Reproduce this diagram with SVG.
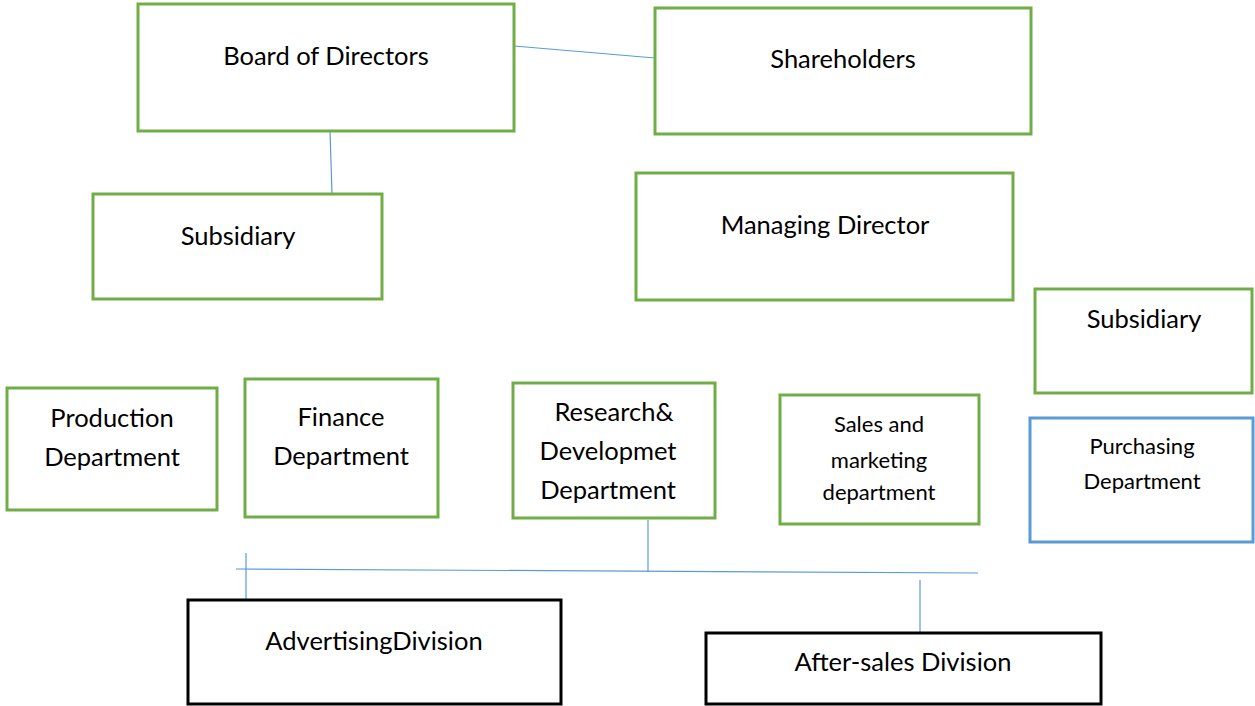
<svg xmlns="http://www.w3.org/2000/svg" width="1255" height="706" viewBox="0 0 1255 706">
<style>
.g{fill:#fff;stroke:#70AD47;stroke-width:3}
.b{fill:#fff;stroke:#5B9BD5;stroke-width:3}
.k{fill:#fff;stroke:#000;stroke-width:3}
text{font-family:Lato,"Open Sans",sans-serif;fill:#000;text-anchor:middle}
.t24{font-size:25.5px}
.t21{font-size:22px}
.c line{stroke:#5B9BD5;stroke-width:1.2}
</style>
<rect width="1255" height="706" fill="#fff"/>
<g class="c" id="connectors">
<line x1="514" y1="46" x2="655" y2="58"/>
<line x1="330" y1="131" x2="332" y2="194"/>
<line x1="648" y1="520" x2="648" y2="572"/>
<line x1="236" y1="569" x2="978" y2="573"/>
<line x1="246" y1="553" x2="246" y2="604"/>
<line x1="920" y1="580" x2="920" y2="633"/>
</g>
<g id="board"><rect class="g" x="138" y="4" width="376" height="127"/><text class="t24" x="326" y="65">Board of Directors</text></g>
<g id="shareholders"><rect class="g" x="655" y="8" width="376" height="126"/><text class="t24" x="843" y="68">Shareholders</text></g>
<g id="subsidiary1"><rect class="g" x="93" y="194" width="289" height="105"/><text class="t24" x="238" y="245">Subsidiary</text></g>
<g id="md"><rect class="g" x="636" y="173" width="377" height="127"/><text class="t24" x="825" y="234">Managing Director</text></g>
<g id="subsidiary2"><rect class="g" x="1035" y="289" width="217" height="104"/><text class="t24" x="1144" y="328">Subsidiary</text></g>
<g id="production"><rect class="g" x="7" y="388" width="210" height="122"/><text class="t24" x="112" y="427">Production</text><text class="t24" x="112" y="466">Department</text></g>
<g id="finance"><rect class="g" x="245" y="379" width="193" height="138"/><text class="t24" x="341" y="426">Finance</text><text class="t24" x="341" y="465">Department</text></g>
<g id="rnd"><rect class="g" x="513" y="383" width="202" height="135"/><text class="t24" x="614" y="421">Research&amp;</text><text class="t24" x="608" y="460">Developmet</text><text class="t24" x="608" y="499">Department</text></g>
<g id="sales"><rect class="g" x="780" y="395" width="199" height="129"/><text class="t21" x="879" y="432">Sales and</text><text class="t21" x="879" y="468">marketing</text><text class="t21" x="879" y="500">department</text></g>
<g id="purchasing"><rect class="b" x="1030" y="418" width="223" height="124"/><text class="t21" x="1142" y="454">Purchasing</text><text class="t21" x="1142" y="489">Department</text></g>
<g id="advertising"><rect class="k" x="188" y="600" width="373" height="104"/><text class="t24" x="374" y="650">AdvertisingDivision</text></g>
<g id="aftersales"><rect class="k" x="706" y="633" width="395" height="71"/><text class="t24" x="903" y="671">After-sales Division</text></g>
</svg>
